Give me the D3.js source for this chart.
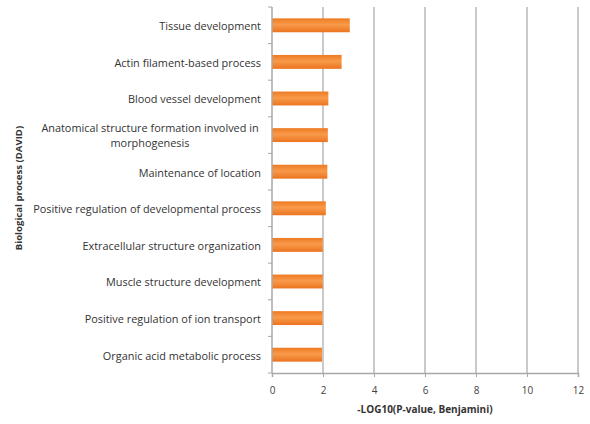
<!DOCTYPE html>
<html><head><meta charset="utf-8">
<script src="https://cdn.jsdelivr.net/npm/d3@7"></script>
<style>body{margin:0;background:#fff}</style>
</head><body>
<svg id="c" width="590" height="424"></svg>
<script>
const categories = [
  "Tissue development",
  "Actin filament-based process",
  "Blood vessel development",
  "Anatomical structure formation involved in morphogenesis",
  "Maintenance of location",
  "Positive regulation of developmental process",
  "Extracellular structure organization",
  "Muscle structure development",
  "Positive regulation of ion transport",
  "Organic acid metabolic process"
];
const values = [3.05, 2.73, 2.21, 2.19, 2.17, 2.11, 1.99, 1.99, 1.98, 1.96];
const xTicks = [0, 2, 4, 6, 8, 10, 12];
const xTitle = "-LOG10(P-value, Benjamini)";
const yTitle = "Biological process (DAVID)";

const svg = d3.select("#c");
const m = {l: 272, r: 12, t: 7, b: 51};
const W = 590, H = 424;
const x = d3.scaleLinear().domain([0, 12]).range([m.l, W - m.r]);
const y = d3.scaleBand().domain(categories).range([m.t, H - m.b]).paddingInner(0.62).paddingOuter(0.31);
const yb = d3.scaleBand().domain(categories).range([m.t, H - m.b]);

const defs = svg.append("defs");
const g = defs.append("linearGradient").attr("id", "bg").attr("x1", 0).attr("y1", 0).attr("x2", 0).attr("y2", 1);
g.append("stop").attr("offset", "0%").attr("stop-color", "#ee7a22");
g.append("stop").attr("offset", "45%").attr("stop-color", "#f89a4a");
g.append("stop").attr("offset", "100%").attr("stop-color", "#ec7420");

// gridlines
svg.append("g").selectAll("line").data(xTicks.slice(1)).join("line")
  .attr("x1", d => x(d)).attr("x2", d => x(d))
  .attr("y1", m.t).attr("y2", H - m.b)
  .attr("stroke", "#b8b8b8").attr("stroke-width", 1.5);

// bars
svg.append("g").selectAll("rect").data(categories).join("rect")
  .attr("x", x(0)).attr("y", d => y(d))
  .attr("width", (d, i) => x(values[i]) - x(0))
  .attr("height", y.bandwidth())
  .attr("fill", "url(#bg)");

// y axis
const ya = svg.append("g").attr("transform", `translate(${x(0)},0)`);
ya.append("line").attr("x1", 0).attr("x2", 0).attr("y1", m.t).attr("y2", H - m.b).attr("stroke", "#a8a8a8").attr("stroke-width", 1.5);
ya.selectAll("line.t").data(categories.concat([null])).join("line").attr("class", "t")
  .attr("x1", -4).attr("x2", 0)
  .attr("y1", (d, i) => m.t + i * yb.step()).attr("y2", (d, i) => m.t + i * yb.step())
  .attr("stroke", "#a8a8a8").attr("stroke-width", 1);

// x axis
const xa = svg.append("g").attr("transform", `translate(0,${H - m.b})`)
  .call(d3.axisBottom(x).tickValues(xTicks).tickSize(4).tickPadding(10));
xa.select(".domain").attr("stroke", "#a8a8a8").attr("stroke-width", 1.5);
xa.selectAll(".tick line").attr("stroke", "#a8a8a8");
xa.selectAll("text").attr("fill", "#444").style("font-family", "Open Sans").style("font-size", "10px");

// category labels
const lab = svg.append("g").style("font-family", "Open Sans").style("font-size", "10.9px").attr("fill", "#333");
categories.forEach((c, i) => {
  const cy = yb(c) + yb.bandwidth() / 2;
  let lines = [c];
  if (c.startsWith("Anatomical")) lines = ["Anatomical structure formation involved in", "morphogenesis"];
  const t = lab.append("text").attr("y", cy).attr("text-anchor", lines.length > 1 ? "middle" : "end");
  if (lines.length > 1) {
    t.attr("x", 150);
    lines.forEach((l, k) => t.append("tspan").attr("x", 150).attr("y", cy).attr("dy", k === 0 ? "-0.3em" : "1.1em").text(l));
  } else {
    t.attr("x", 261).attr("dy", "0.45em").text(c);
  }
});

svg.append("text").attr("x", (x(0) + x(12)) / 2 - 0).attr("y", 413).attr("text-anchor", "middle")
  .style("font-family", "Open Sans").style("font-size", "10px").style("font-weight", "bold").attr("fill", "#333").text(xTitle);
svg.append("text").attr("transform", "translate(22,188) rotate(-90)").attr("text-anchor", "middle")
  .style("font-family", "Open Sans").style("font-size", "9.6px").style("font-weight", "bold").attr("fill", "#333").text(yTitle);
</script>
</body></html>
